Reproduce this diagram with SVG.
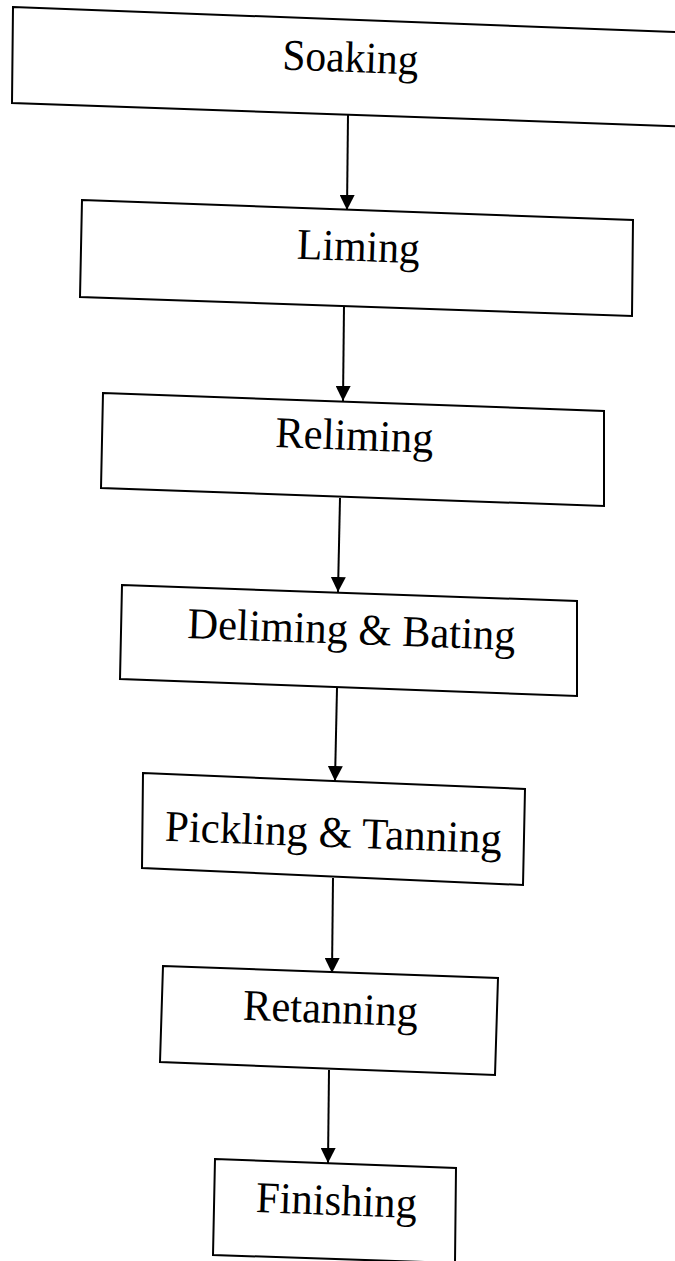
<svg xmlns="http://www.w3.org/2000/svg" width="675" height="1261" viewBox="0 0 675 1261">
<style>
.box{fill:#fff;stroke:#000;stroke-width:2;stroke-linejoin:miter}
.lbl{font-family:"Liberation Serif","Times New Roman",serif;font-size:44px;fill:#000;text-anchor:middle}
.edge{stroke:#000;stroke-width:2;fill:none}
</style>
<defs>
<marker id="ah" markerUnits="userSpaceOnUse" markerWidth="15" markerHeight="15" refX="15" refY="7.5" orient="auto">
<path d="M0,0 L15,7.5 L0,15 z" fill="#000"/>
</marker>
</defs>
<rect width="675" height="1261" fill="#fff"/>
<g id="node-soaking">
<polygon class="box" points="13,7 700,33 700,127 12,103"/>
<text class="lbl" x="350" y="72" textLength="136" lengthAdjust="spacingAndGlyphs" transform="rotate(2.1 350 72)">Soaking</text>
</g>
<g id="node-liming">
<polygon class="box" points="82,200 633,220 632,316 80,297"/>
<text class="lbl" x="358" y="261" textLength="123" lengthAdjust="spacingAndGlyphs" transform="rotate(2.1 358 261)">Liming</text>
</g>
<g id="node-reliming">
<polygon class="box" points="103,393 604,411 604,506 101,488"/>
<text class="lbl" x="354" y="450" textLength="158" lengthAdjust="spacingAndGlyphs" transform="rotate(2.1 354 450)">Reliming</text>
</g>
<g id="node-deliming">
<polygon class="box" points="122,585 577,601 577,696 120,679"/>
<text class="lbl" x="351" y="644" textLength="328" lengthAdjust="spacingAndGlyphs" transform="rotate(2.1 351 644)">Deliming &amp; Bating</text>
</g>
<g id="node-pickling">
<polygon class="box" points="143,773 525,789 523,885 142,868"/>
<text class="lbl" x="333" y="847" textLength="337" lengthAdjust="spacingAndGlyphs" transform="rotate(2.1 333 847)">Pickling &amp; Tanning</text>
</g>
<g id="node-retanning">
<polygon class="box" points="163,966 498,978 495,1075 160,1062"/>
<text class="lbl" x="330" y="1023" textLength="175" lengthAdjust="spacingAndGlyphs" transform="rotate(2.1 330 1023)">Retanning</text>
</g>
<g id="node-finishing">
<polygon class="box" points="215,1159 456,1168 455,1263 213,1255"/>
<text class="lbl" x="336" y="1215" textLength="161" lengthAdjust="spacingAndGlyphs" transform="rotate(2.1 336 1215)">Finishing</text>
</g>
<g id="connectors">
<line class="edge" x1="348" y1="115" x2="347" y2="210" marker-end="url(#ah)"/>
<line class="edge" x1="344" y1="306" x2="343" y2="401" marker-end="url(#ah)"/>
<line class="edge" x1="340" y1="498" x2="338" y2="592" marker-end="url(#ah)"/>
<line class="edge" x1="337" y1="688" x2="335" y2="781" marker-end="url(#ah)"/>
<line class="edge" x1="333" y1="878" x2="332" y2="973" marker-end="url(#ah)"/>
<line class="edge" x1="329" y1="1070" x2="328" y2="1163" marker-end="url(#ah)"/>
</g>
</svg>
